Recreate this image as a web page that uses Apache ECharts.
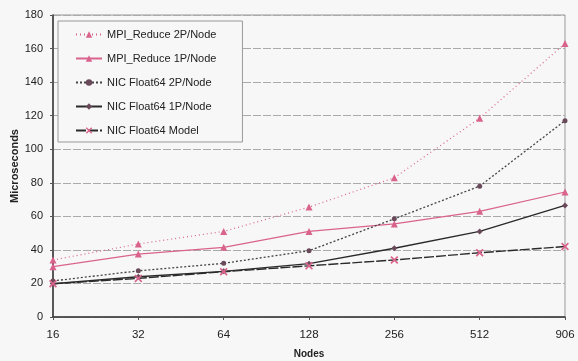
<!DOCTYPE html>
<html><head><meta charset="utf-8">
<script src="https://cdn.jsdelivr.net/npm/echarts@6/dist/echarts.min.js"></script>
<style>html,body{margin:0;padding:0;background:#f7f7f7}#c{width:578px;height:361px}</style>
</head><body><div id="c"></div>
<script>
var categories = ['16','32','64','128','256','512','906'];
var mpi2P = [34, 43.5, 51, 65.5, 83, 118.5, 163];
var mpi1P = [30, 37.5, 41.5, 51, 55.5, 63, 74.5];
var nic2P = [21.5, 27.5, 32, 39.5, 58.5, 78, 117];
var nic1P = [19.8, 24, 27.2, 31.8, 41, 51, 66.5];
var nicModel = [19.8, 23, 27, 30.5, 34, 38.3, 42];
var yTicks = [0, 20, 40, 60, 80, 100, 120, 140, 160, 180];

var pink = '#d9638c', dark = '#2a2a2a';
var xPath = 'path://M0,1.5L1.5,0L5,3.5L8.5,0L10,1.5L6.5,5L10,8.5L8.5,10L5,6.5L1.5,10L0,8.5L3.5,5Z';
function mk(name, data, color, type, width, symbol, size, symColor) {
  return {name: name, type: 'line', data: data, symbol: symbol, symbolSize: size,
    lineStyle: {color: color, type: type, width: width},
    itemStyle: {color: symColor || color, borderWidth: 0},
    emphasis: {disabled: true}, animation: false};
}
var chart = echarts.init(document.getElementById('c'));
chart.setOption({
  backgroundColor: '#f7f7f7',
  animation: false,
  textStyle: {fontFamily: 'Liberation Sans, Arial, sans-serif'},
  grid: {left: 53, right: 13, top: 15, bottom: 44, show: true, borderColor: '#999', borderWidth: 1,
    containLabel: false, outerBoundsMode: 'none'},
  legend: {
    orient: 'vertical', left: 58, top: 21,
    padding: [8, 26, 6, 17],
    itemWidth: 26, itemHeight: 8, itemGap: 13,
    backgroundColor: '#f7f7f7', borderColor: '#999', borderWidth: 1,
    textStyle: {fontSize: 11, color: '#222', fontFamily: 'Liberation Sans, Arial, sans-serif'},
    data: ['MPI_Reduce 2P/Node', 'MPI_Reduce 1P/Node', 'NIC Float64 2P/Node', 'NIC Float64 1P/Node', 'NIC Float64 Model']
  },
  xAxis: {
    type: 'category', data: categories, boundaryGap: false,
    name: 'Nodes', nameLocation: 'middle', nameGap: 32, nameMoveOverlap: false,
    nameTextStyle: {fontWeight: 'bold', fontSize: 10, color: '#222'},
    axisLine: {lineStyle: {color: '#333', width: 1.5}},
    axisTick: {show: true, length: 3, lineStyle: {color: '#555'}},
    axisLabel: {fontSize: 11.5, color: '#222', margin: 12},
    splitLine: {show: false}
  },
  yAxis: {
    type: 'value', min: 0, max: 180, interval: 20,
    name: 'Microseconds', nameLocation: 'middle', nameGap: 33, nameRotate: 90, nameMoveOverlap: false,
    nameTextStyle: {fontWeight: 'bold', fontSize: 11, color: '#222'},
    axisLine: {show: true, lineStyle: {color: '#333', width: 1.5}},
    axisTick: {show: true, length: 3, lineStyle: {color: '#555'}},
    axisLabel: {fontSize: 11, color: '#222', margin: 10,
      formatter: function (v) { return yTicks.indexOf(v) >= 0 ? String(v) : ''; }},
    splitLine: {show: true, lineStyle: {color: '#aaa', type: [8, 2], width: 1}}
  },
  series: [
    mk('MPI_Reduce 2P/Node', mpi2P, pink, [1, 3], 1.2, 'triangle', 7),
    mk('MPI_Reduce 1P/Node', mpi1P, pink, 'solid', 1.2, 'triangle', 7),
    mk('NIC Float64 2P/Node', nic2P, '#444', [2, 2], 1.3, 'circle', 5, '#6a4a5a'),
    mk('NIC Float64 1P/Node', nic1P, dark, 'solid', 1.4, 'diamond', 6, '#6a4a5a'),
    mk('NIC Float64 Model', nicModel, dark, [10, 2], 1.4, xPath, 8, pink)
  ]
});
</script></body></html>
